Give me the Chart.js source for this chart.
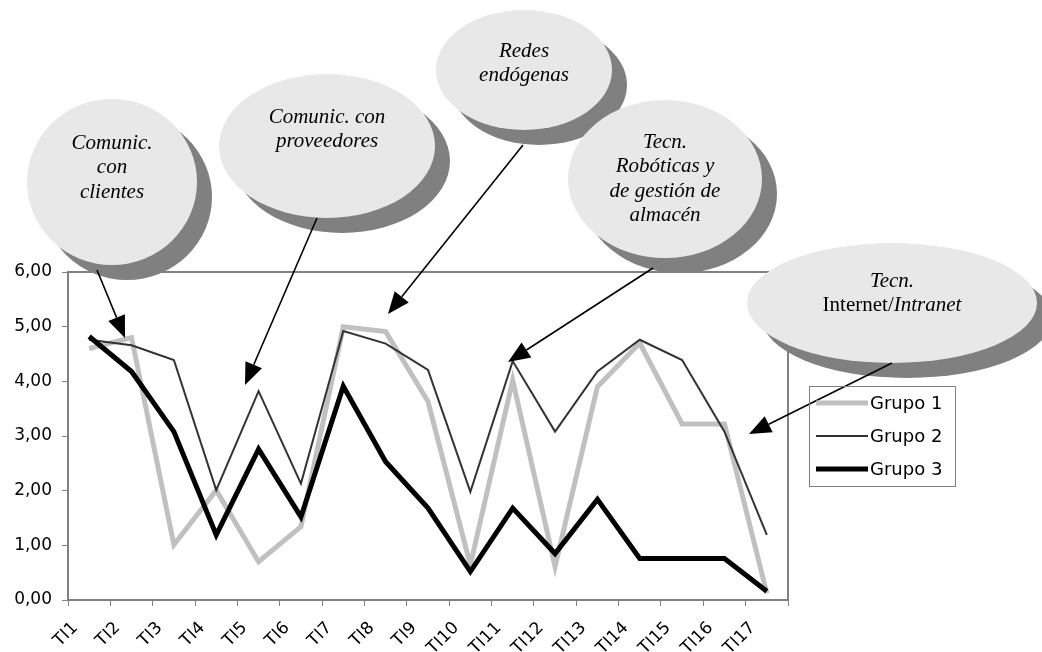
<!DOCTYPE html>
<html lang="es">
<head>
<meta charset="utf-8">
<title>Grupos - TI</title>
<script src="https://cdn.jsdelivr.net/npm/chart.js@4.4.1/dist/chart.umd.min.js"></script>
<style>
  body { margin: 0; background: #fff; }
  #contenedor { width: 1042px; height: 652px; }
</style>
</head>
<body>
<div id="contenedor"><canvas id="grafico" width="1042" height="652"></canvas></div>
<script>
// Datos por tecnología (TI1..TI17)
const categorias = ['TI1', 'TI2', 'TI3', 'TI4', 'TI5', 'TI6', 'TI7', 'TI8', 'TI9',
                    'TI10', 'TI11', 'TI12', 'TI13', 'TI14', 'TI15', 'TI16', 'TI17'];
const grupo1 = [4.60, 4.80, 1.01, 2.01, 0.70, 1.34, 5.00, 4.91, 3.63, 0.64, 4.02, 0.61, 3.90, 4.70, 3.22, 3.22, 0.12];
const grupo2 = [4.76, 4.66, 4.39, 2.01, 3.82, 2.13, 4.92, 4.69, 4.21, 1.98, 4.37, 3.08, 4.18, 4.76, 4.39, 3.08, 1.19];
const grupo3 = [4.82, 4.18, 3.08, 1.19, 2.76, 1.52, 3.91, 2.53, 1.68, 0.52, 1.68, 0.85, 1.84, 0.76, 0.76, 0.76, 0.16];
const etiquetasY = ['0,00', '1,00', '2,00', '3,00', '4,00', '5,00', '6,00'];

// Textos de los globos; una línea puede mezclar cursiva y normal
const textosGlobos = [
    ['Comunic.', 'con', 'clientes'],
    ['Comunic. con', 'proveedores'],
    ['Redes', 'endógenas'],
    ['Tecn.', 'Robóticas y', 'de gestión de', 'almacén'],
    ['Tecn.', [['Internet/', false], ['Intranet', true]]]
];

// Posición de cada globo y de su flecha
const globos = [
    { cx: 112, cy: 182, rx: 85, ry: 83, base: 149, desde: [97, 270], hasta: [125, 338] },
    { cx: 327, cy: 146, rx: 108, ry: 72, base: 123, desde: [317, 218], hasta: [245, 385] },
    { cx: 524, cy: 70, rx: 88, ry: 60, base: 57, desde: [523, 145], hasta: [388, 314] },
    { cx: 665, cy: 179, rx: 97, ry: 79, base: 148, desde: [653, 268], hasta: [508, 362] },
    { cx: 892, cy: 303, rx: 145, ry: 60, base: 287, desde: [892, 363], hasta: [749, 434] }
];

const FUENTE = "'DejaVu Sans', sans-serif";
const SOMBRA = 15;
const INTERLINEA = 24.3;

function fuenteGlobo(cursiva) {
    return (cursiva ? 'italic ' : '') + "21px 'Liberation Serif', 'Times New Roman', serif";
}

function dibujarGlobo(ctx, g, lineas) {
    ctx.fillStyle = '#808080';
    ctx.beginPath();
    ctx.ellipse(g.cx + SOMBRA, g.cy + SOMBRA, g.rx, g.ry, 0, 0, Math.PI * 2);
    ctx.fill();
    ctx.fillStyle = '#e8e8e8';
    ctx.beginPath();
    ctx.ellipse(g.cx, g.cy, g.rx, g.ry, 0, 0, Math.PI * 2);
    ctx.fill();

    ctx.fillStyle = '#000';
    ctx.textAlign = 'left';
    ctx.textBaseline = 'alphabetic';
    lineas.forEach((linea, i) => {
        const partes = typeof linea === 'string' ? [[linea, true]] : linea;
        let total = 0;
        partes.forEach(([t, cursiva]) => {
            ctx.font = fuenteGlobo(cursiva);
            total += ctx.measureText(t).width;
        });
        let x = g.cx - total / 2;
        const y = g.base + i * INTERLINEA;
        partes.forEach(([t, cursiva]) => {
            ctx.font = fuenteGlobo(cursiva);
            ctx.fillText(t, x, y);
            x += ctx.measureText(t).width;
        });
    });
}

function dibujarFlecha(ctx, [x1, y1], [x2, y2]) {
    const ang = Math.atan2(y2 - y1, x2 - x1);
    const largo = 22, ancho = 9;
    const bx = x2 - largo * Math.cos(ang);
    const by = y2 - largo * Math.sin(ang);
    ctx.strokeStyle = '#000';
    ctx.lineWidth = 1.6;
    ctx.beginPath();
    ctx.moveTo(x1, y1);
    ctx.lineTo(bx, by);
    ctx.stroke();
    ctx.fillStyle = '#000';
    ctx.beginPath();
    ctx.moveTo(x2, y2);
    ctx.lineTo(bx + ancho * Math.sin(ang), by - ancho * Math.cos(ang));
    ctx.lineTo(bx - ancho * Math.sin(ang), by + ancho * Math.cos(ang));
    ctx.closePath();
    ctx.fill();
}

// Marco gris alrededor del área de trazado
const marco = {
    id: 'marco',
    beforeDatasetsDraw(chart) {
        const { ctx, chartArea: a } = chart;
        ctx.save();
        ctx.strokeStyle = '#808080';
        ctx.lineWidth = 2;
        ctx.strokeRect(a.left, a.top, a.right - a.left, a.bottom - a.top);
        ctx.restore();
    }
};

// Globos, flechas y leyenda encima de todo
const anotaciones = {
    id: 'anotaciones',
    afterDraw(chart) {
        const ctx = chart.ctx;
        ctx.save();
        globos.forEach((g, i) => dibujarGlobo(ctx, g, textosGlobos[i]));
        globos.forEach(g => dibujarFlecha(ctx, g.desde, g.hasta));

        // leyenda
        ctx.strokeStyle = '#808080';
        ctx.lineWidth = 1;
        ctx.strokeRect(809.5, 386.5, 146, 100);
        ctx.font = '18px ' + FUENTE;
        ctx.textAlign = 'left';
        ctx.textBaseline = 'middle';
        chart.data.datasets.forEach((ds, i) => {
            const y = 403 + i * 33;
            ctx.strokeStyle = ds.borderColor;
            ctx.lineWidth = ds.borderWidth;
            ctx.beginPath();
            ctx.moveTo(816, y);
            ctx.lineTo(868, y);
            ctx.stroke();
            ctx.fillStyle = '#000';
            ctx.fillText(ds.label, 870, y + 1);
        });
        ctx.restore();
    }
};

new Chart(document.getElementById('grafico'), {
    type: 'line',
    data: {
        labels: categorias,
        datasets: [
            { label: 'Grupo 1', data: grupo1, borderColor: '#c0c0c0', borderWidth: 5, order: 3 },
            { label: 'Grupo 2', data: grupo2, borderColor: '#333333', borderWidth: 2, order: 2 },
            { label: 'Grupo 3', data: grupo3, borderColor: '#000000', borderWidth: 5, order: 1 }
        ]
    },
    options: {
        responsive: false,
        animation: false,
        devicePixelRatio: 1,
        layout: { padding: { top: 272, right: 254, left: 0, bottom: 0 } },
        elements: {
            point: { radius: 0, hoverRadius: 0 },
            line: { tension: 0, fill: false }
        },
        plugins: {
            legend: { display: false },
            tooltip: { enabled: false }
        },
        scales: {
            x: {
                offset: true,
                grid: { offset: true, drawOnChartArea: false, tickLength: 6, color: '#808080' },
                border: { display: false },
                ticks: {
                    autoSkip: false, minRotation: 45, maxRotation: 45,
                    padding: 12, labelOffset: -14,
                    color: '#000', font: { family: FUENTE, size: 17 }
                },
                afterFit: s => { s.height = 52; }
            },
            y: {
                min: 0,
                max: 6,
                grid: { drawOnChartArea: false, tickLength: 6, color: '#808080' },
                border: { display: false },
                ticks: {
                    stepSize: 1, padding: 10,
                    color: '#000', font: { family: FUENTE, size: 17 },
                    callback: (v, i) => etiquetasY[i]
                },
                afterFit: s => { s.width = 68; }
            }
        }
    },
    plugins: [marco, anotaciones]
});
</script>
</body>
</html>
